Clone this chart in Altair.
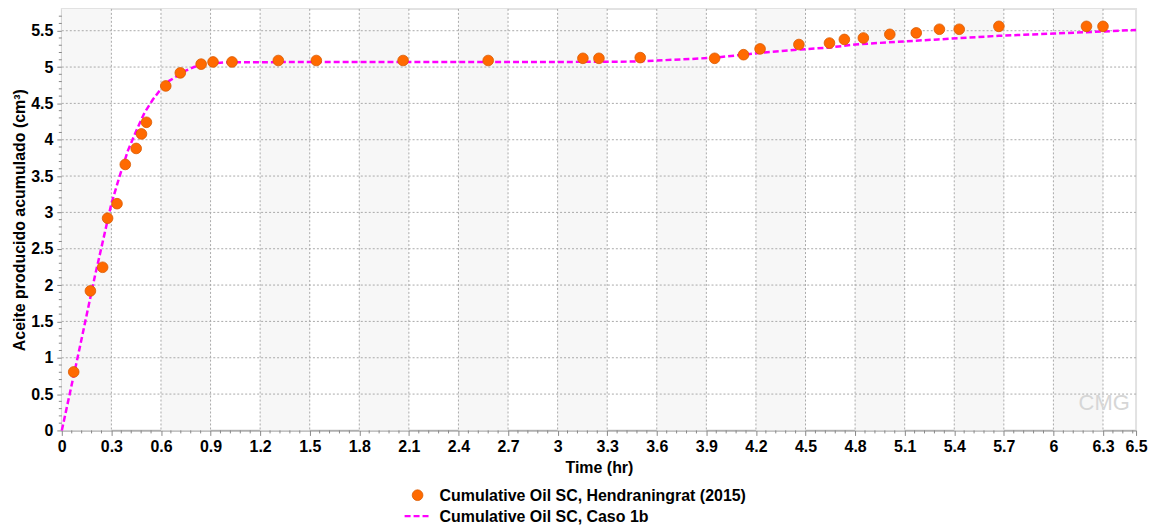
import altair as alt
import pandas as pd

# ---- data ----
obs_time = [0.072, 0.173, 0.247, 0.277, 0.334, 0.384, 0.45, 0.482, 0.512, 0.629,
            0.717, 0.843, 0.915, 1.03, 1.31, 1.54, 2.065, 2.58, 3.153, 3.25,
            3.50, 3.95, 4.125, 4.225, 4.46, 4.645, 4.735, 4.85, 5.01, 5.17,
            5.31, 5.43, 5.67, 6.20, 6.30]
obs_oil = [0.805, 1.92, 2.245, 2.92, 3.12, 3.66, 3.88, 4.08, 4.24, 4.74,
           4.92, 5.04, 5.07, 5.07, 5.09, 5.09, 5.09, 5.09, 5.12, 5.12,
           5.13, 5.12, 5.17, 5.25, 5.31, 5.33, 5.38, 5.40, 5.45, 5.47,
           5.52, 5.52, 5.56, 5.56, 5.56]

sim_time = [0, 0.1, 0.2, 0.3, 0.35, 0.4, 0.45, 0.5, 0.55, 0.6, 0.65, 0.7, 0.75,
            0.8, 0.85, 0.9, 1.0, 1.5, 2.0, 2.5, 3.0, 3.45, 3.6, 3.8, 3.95, 4.125,
            4.25, 4.46, 4.65, 4.8, 5.0, 5.3, 5.67, 6.0, 6.2, 6.5]
sim_oil = [0, 1.05, 2.12, 3.12, 3.5, 3.85, 4.12, 4.37, 4.55, 4.70, 4.81, 4.88, 4.95,
           5.0, 5.03, 5.05, 5.065, 5.07, 5.07, 5.07, 5.07, 5.075, 5.09, 5.11, 5.13, 5.17,
           5.2, 5.24, 5.27, 5.31, 5.34, 5.38, 5.43, 5.46, 5.48, 5.51]

x_ticks = [0, 0.3, 0.6, 0.9, 1.2, 1.5, 1.8, 2.1, 2.4, 2.7, 3, 3.3, 3.6, 3.9, 4.2,
           4.5, 4.8, 5.1, 5.4, 5.7, 6, 6.3, 6.5]
y_ticks = [0, 0.5, 1, 1.5, 2, 2.5, 3, 3.5, 4, 4.5, 5, 5.5]
band_start = [0, 0.6, 1.2, 1.8, 2.4, 3.0, 3.6, 4.2, 4.8, 5.4, 6.0]
band_end = [0.3, 0.9, 1.5, 2.1, 2.7, 3.3, 3.9, 4.5, 5.1, 5.7, 6.3]
x_minor = [round(i * 0.06, 2) for i in range(0, 109) if i % 5 != 0]
y_minor = [round(i * 0.1, 1) for i in range(0, 58) if i % 5 != 0]

legend_labels = ["Cumulative Oil SC, Hendraningrat (2015)", "Cumulative Oil SC, Caso 1b"]
x_title = "Time (hr)"
y_title = "Aceite producido acumulado (cm³)"

W, H = 1078, 423
FONT = "Liberation Sans"
ORANGE = "#ff6a00"
MAGENTA = "#ff00ff"

xscale = alt.Scale(domain=[0, 6.5], nice=False, zero=False)
yscale = alt.Scale(domain=[0, 5.8], nice=False, zero=False)

xaxis = alt.Axis(values=x_ticks, format="~g", labelFont=FONT, labelFontSize=16,
                 labelFontWeight="bold", labelColor="#000", tickColor="#888",
                 domainColor="#888", tickSize=5, labelPadding=3, grid=False,
                 labelFlush=False, labelOverlap=False, title=x_title,
                 titleFont=FONT, titleFontSize=16, titleFontWeight="bold",
                 titleColor="#000", titlePadding=5)
yaxis = alt.Axis(values=y_ticks, format="~g", labelFont=FONT, labelFontSize=16,
                 labelFontWeight="bold", labelColor="#000", tickColor="#888",
                 domainColor="#888", tickSize=5, labelPadding=4, grid=False,
                 labelFlush=False, labelOverlap=False, title=y_title,
                 titleFont=FONT, titleFontSize=16, titleFontWeight="bold",
                 titleColor="#000", titlePadding=3)

bands = alt.Chart(pd.DataFrame({"x0": band_start, "x1": band_end})).mark_rect(
    color="#f7f7f7").encode(
    x=alt.X("x0:Q", scale=xscale, axis=xaxis), x2="x1:Q",
    y=alt.value(0), y2=alt.value(H))

vgrid = alt.Chart(pd.DataFrame({"x": x_ticks[1:-1]})).mark_rule(
    color="#aaaaaa", strokeDash=[2, 2], strokeWidth=1).encode(
    x=alt.X("x:Q", scale=xscale, axis=xaxis), y=alt.value(0), y2=alt.value(H))

hgrid = alt.Chart(pd.DataFrame({"y": y_ticks[1:]})).mark_rule(
    color="#aaaaaa", strokeDash=[2, 2], strokeWidth=1).encode(
    y=alt.Y("y:Q", scale=yscale, axis=yaxis), x=alt.value(0), x2=alt.value(W))

xminor = alt.Chart(pd.DataFrame({"x": x_minor})).mark_rule(
    color="#888", strokeWidth=1).encode(
    x=alt.X("x:Q", scale=xscale, axis=xaxis), y=alt.value(H), y2=alt.value(H + 3))

yminor = alt.Chart(pd.DataFrame({"y": y_minor})).mark_rule(
    color="#888", strokeWidth=1).encode(
    y=alt.Y("y:Q", scale=yscale, axis=yaxis), x=alt.value(0), x2=alt.value(-3))

line = alt.Chart(pd.DataFrame({"t": sim_time, "v": sim_oil})).mark_line(
    color=MAGENTA, strokeDash=[6, 3], strokeWidth=2.5).encode(
    x=alt.X("t:Q", scale=xscale, axis=xaxis),
    y=alt.Y("v:Q", scale=yscale, axis=yaxis))

points = alt.Chart(pd.DataFrame({"t": obs_time, "v": obs_oil})).mark_point(
    filled=True, shape="circle", size=115, fill=ORANGE, stroke="#d95a00",
    strokeWidth=0.8, opacity=1).encode(
    x=alt.X("t:Q", scale=xscale, axis=xaxis),
    y=alt.Y("v:Q", scale=yscale, axis=yaxis))

leg_df1 = pd.DataFrame({"label": [legend_labels[0]]})
leg_df2 = pd.DataFrame({"label": [legend_labels[1]]})

leg_sym1 = alt.Chart(leg_df1).mark_point(
    filled=True, shape="circle", size=115, fill=ORANGE, stroke="#d95a00",
    strokeWidth=0.8, opacity=1).encode(x=alt.value(357), y=alt.value(488))
leg_txt1 = alt.Chart(leg_df1).mark_text(
    align="left", baseline="middle", font=FONT, fontSize=16, fontWeight="bold",
    color="#000").encode(text="label:N", x=alt.value(379), y=alt.value(489))
leg_sym2 = alt.Chart(leg_df2).mark_rule(
    color=MAGENTA, strokeDash=[6, 3], strokeWidth=2.5).encode(
    x=alt.value(344), x2=alt.value(370), y=alt.value(509))
leg_txt2 = alt.Chart(leg_df2).mark_text(
    align="left", baseline="middle", font=FONT, fontSize=16, fontWeight="bold",
    color="#000").encode(text="label:N", x=alt.value(379), y=alt.value(510))

logo = alt.Chart(pd.DataFrame({"label": ["CMG"]})).mark_text(
    align="center", baseline="middle", font=FONT, fontSize=22,
    color="#d6d6d6").encode(text="label:N", x=alt.value(1046), y=alt.value(395))

chart = alt.layer(
    bands, vgrid, hgrid, xminor, yminor, logo, line, points,
    leg_sym1, leg_txt1, leg_sym2, leg_txt2
).properties(
    width=W, height=H,
    autosize=alt.AutoSizeParams(type="none"),
    padding={"left": 54, "top": 0, "right": 14, "bottom": 96},
).configure_view(
    stroke="#e2e2e2", strokeWidth=2, fill="white"
)

chart.save("out.html", embed_options={"renderer": "svg", "actions": False})
